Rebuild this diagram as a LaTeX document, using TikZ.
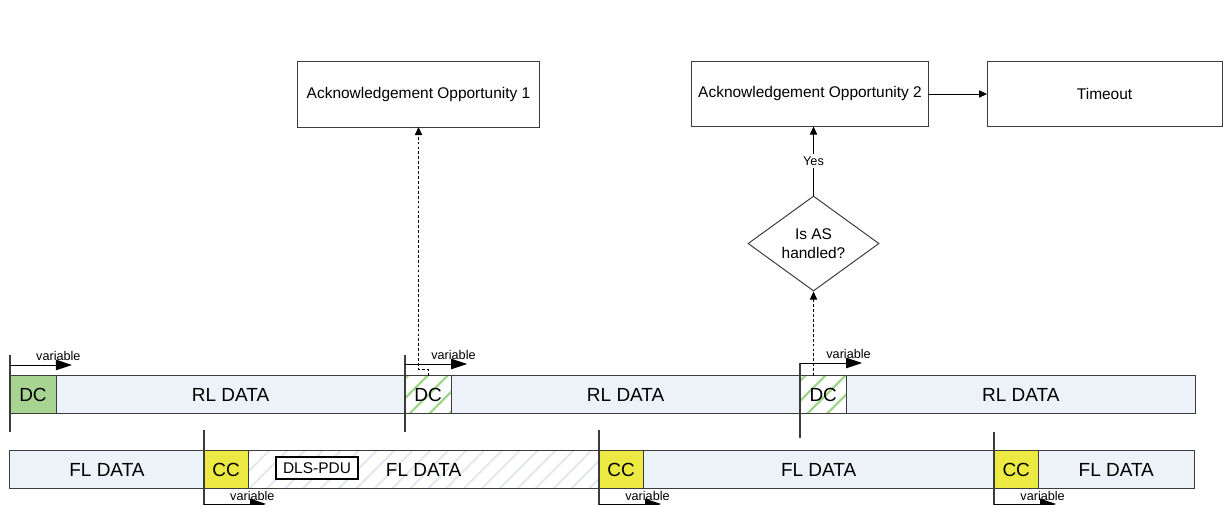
\documentclass[tikz,border=0pt]{standalone}
\usepackage{fontspec}
\setmainfont{Liberation Sans}
\usetikzlibrary{shapes.geometric, arrows.meta, positioning, patterns.meta}
\definecolor{slotfill}{RGB}{236, 242, 247}
\definecolor{dcgreen}{RGB}{168, 212, 146}
\definecolor{ccyellow}{RGB}{236, 233, 66}
\definecolor{hatchgreen}{RGB}{160, 214, 140}
\definecolor{hatchgrey}{RGB}{226, 232, 238}
\definecolor{bordercolor}{RGB}{60, 60, 60}
\tikzset{
    slot/.style={
        rectangle,
        minimum height=0.925cm,
        inner sep=0pt,
        outer sep=0pt,
        draw=bordercolor,
        line width=0.7pt,
        fill=slotfill,
        text centered,
        font=\fontsize{13.5}{16}\selectfont
    },
    dcslot/.style={slot, minimum width=1.15cm, fill=dcgreen},
    dchatch/.style={slot, minimum width=1.15cm, fill=white,
        pattern={Lines[angle=45, distance=10pt, line width=1.6pt]},
        pattern color=hatchgreen},
    ccslot/.style={slot, minimum width=1.1cm, fill=ccyellow},
    fillhatch/.style={fill=white,
        pattern={Lines[angle=45, distance=9pt, line width=1.4pt]},
        pattern color=hatchgrey},
    event/.style={
        rectangle,
        minimum height=1.625cm,
        outer sep=0pt,
        draw=bordercolor,
        line width=0.7pt,
        fill=white,
        text centered,
        font=\fontsize{11}{13}\selectfont
    },
    decision/.style={
        diamond,
        aspect=1.38,
        inner sep=0pt,
        minimum width=3.275cm,
        minimum height=2.375cm,
        draw=bordercolor,
        line width=0.7pt,
        align=center,
        font=\fontsize{11}{14}\selectfont
    },
    pdubox/.style={
        rectangle,
        minimum width=2.05cm,
        minimum height=0.55cm,
        inner sep=0pt,
        draw=black,
        line width=1pt,
        fill=white,
        font=\fontsize{11}{13}\selectfont
    },
    marker/.style={
        line width=1.6pt,
        color=bordercolor
    },
    varrow/.style={
        line width=0.7pt,
        -{Triangle[length=4mm, width=2.6mm]}
    },
    varlabel/.style={
        font=\fontsize{9}{10}\selectfont,
        inner sep=0pt,
        pos=0.78,
        above=3pt
    },
    arrow/.style={
        line width=0.6pt,
        -{Triangle[length=2mm, width=1.8mm]}
    },
    dasharrow/.style={
        arrow,
        dash pattern=on 2pt off 1.5pt
    }
}

\begin{document}
\begin{tikzpicture}[x=0.025cm, y=0.025cm]
    \useasboundingbox (0,0) rectangle (1224,505);

    % Reverse link slots
    \node (dc1) [dcslot] at (33,110.5) {DC};
    \node (rl1) [slot, minimum width=8.725cm, right=0pt of dc1] {RL DATA};
    \node (dc2) [dchatch, right=0pt of rl1] {DC};
    \node (rl2) [slot, minimum width=8.725cm, right=0pt of dc2] {RL DATA};
    \node (dc3) [dchatch, right=0pt of rl2] {DC};
    \node (rl3) [slot, minimum width=8.725cm, right=0pt of dc3] {RL DATA};

    % Forward link slots
    \node (fl1) [slot, minimum width=4.85cm] at (107,35.5) {FL DATA};
    \node (cc1) [ccslot, right=0pt of fl1] {CC};
    \node (fl2) [slot, fillhatch, minimum width=8.775cm, right=0pt of cc1] {FL DATA};
    \node (cc2) [ccslot, right=0pt of fl2] {CC};
    \node (fl3) [slot, minimum width=8.775cm, right=0pt of cc2] {FL DATA};
    \node (cc3) [ccslot, right=0pt of fl3] {CC};
    \node (fl4) [slot, minimum width=3.9cm, right=0pt of cc3] {FL DATA};
    \node (pdu) [pdubox] at (317,37) {DLS-PDU};

    % Slot boundaries with variable offsets
    \draw[marker] (dc1.west |- 0,150) -- (dc1.west |- 0,73);
    \draw[varrow] (dc1.west |- 0,140) -- ++(62,0) node (var1) [varlabel] {variable};
    \draw[marker] (dc2.west |- 0,150) -- (dc2.west |- 0,73);
    \draw[varrow] (dc2.west |- 0,141) -- ++(62,0) node (var2) [varlabel] {variable};
    \draw[marker] (dc3.west |- 0,142) -- (dc3.west |- 0,67);
    \draw[varrow] (dc3.west |- 0,142) -- ++(62,0) node (var3) [varlabel] {variable};
    \draw[marker] (cc1.west |- 0,75) -- (cc1.west |- 0,-5);
    \draw[varrow] (cc1.west |- 0,1) -- ++(62,0) node (var4) [varlabel, above=2pt] {variable};
    \draw[marker] (cc2.west |- 0,75) -- (cc2.west |- 0,-5);
    \draw[varrow] (cc2.west |- 0,1) -- ++(62,0) node (var5) [varlabel, above=2pt] {variable};
    \draw[marker] (cc3.west |- 0,73) -- (cc3.west |- 0,-5);
    \draw[varrow] (cc3.west |- 0,1) -- ++(62,0) node (var6) [varlabel, above=2pt] {variable};

    % Acknowledgement flow
    \node (ack1) [event, minimum width=6.025cm] at (418.5,410.5) {Acknowledgement Opportunity 1};
    \node (ack2) [event, minimum width=5.9cm] at (810,411) {Acknowledgement Opportunity 2};
    \node (timeout) [event, minimum width=5.875cm, right=1.475cm of ack2] {Timeout};
    \node (handled) [decision, below=1.725cm of ack2, xshift=2.5] {Is AS\\handled?};

    % Arrows
    \draw[dasharrow] (dc2.north) -- ++(0,7) -| (ack1.south);
    \draw[dasharrow] (dc3.north -| handled.south) -- (handled.south);
    \draw[arrow] (handled.north) -- (handled.north |- ack2.south)
        node (yes) [midway, fill=white, inner sep=1.5pt, font=\fontsize{9}{10}\selectfont] {Yes};
    \draw[arrow] (ack2) -- (timeout);

\end{tikzpicture}
\end{document}
